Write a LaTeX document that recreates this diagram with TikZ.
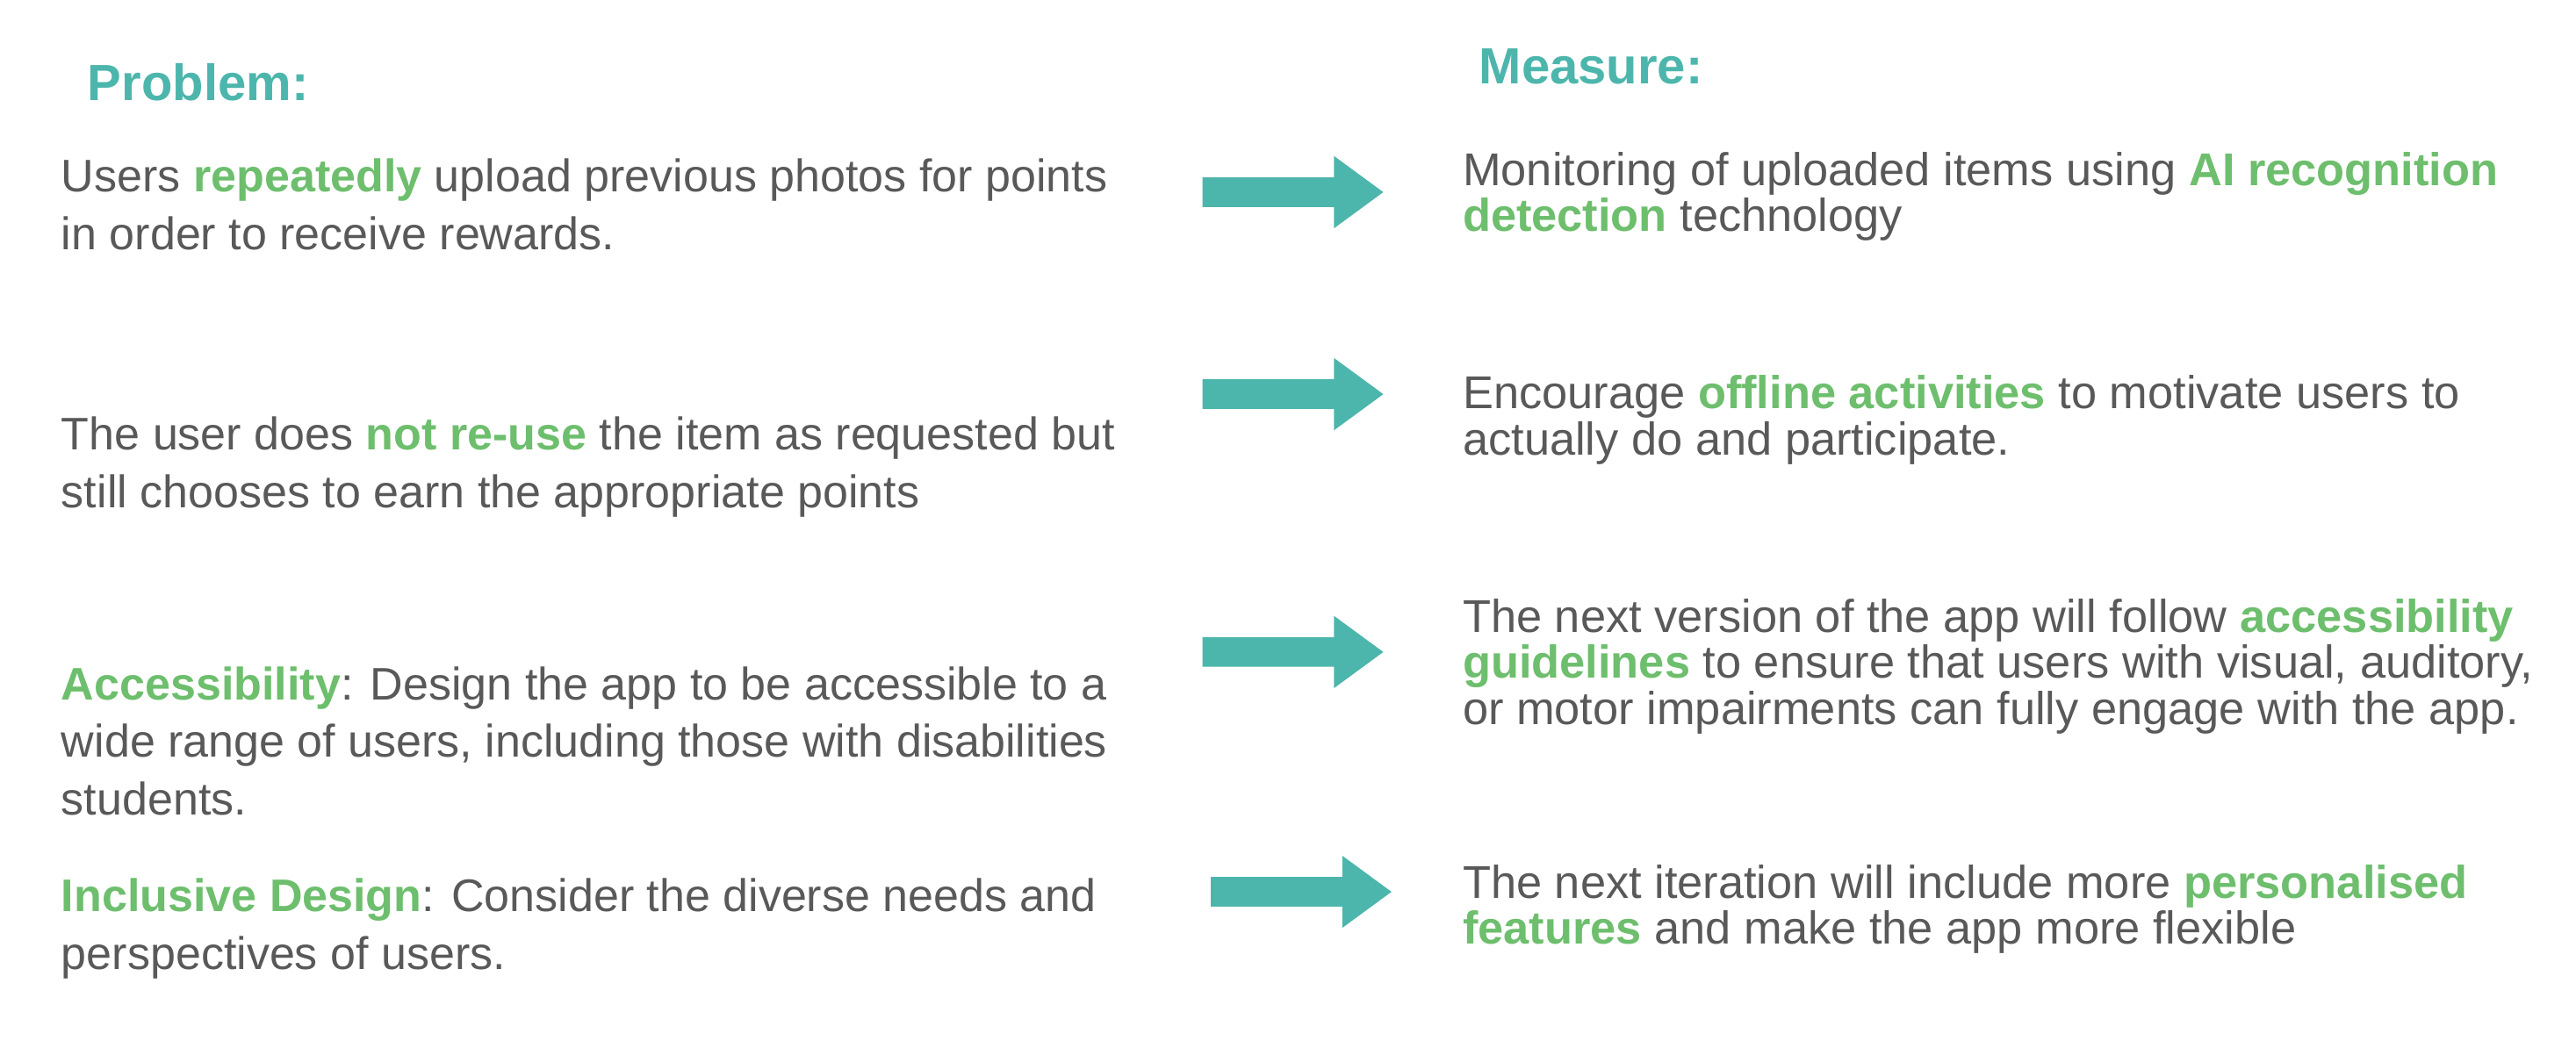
\documentclass[tikz,border=0pt]{standalone}
\usepackage{fontspec}
\setmainfont{Liberation Sans}
\definecolor{txt}{HTML}{595959}
\definecolor{grn}{HTML}{6DBE6D}
\definecolor{teal}{HTML}{4DB6AC}
\newcommand{\hl}[1]{\textcolor{grn}{\bfseries #1}}
\begin{document}
\begin{tikzpicture}[x=0.5pt,y=-0.5pt,
  head/.style={anchor=base west,inner sep=0,text=teal,font=\fontsize{15.5pt}{17pt}\selectfont\bfseries},
  lt/.style={anchor=base west,inner sep=0,text=txt,align=left,font=\fontsize{13.9pt}{17.5pt}\selectfont},
  rt/.style={anchor=base west,inner sep=0,text=txt,align=left,font=\fontsize{14pt}{14pt}\selectfont},
  arr/.style={fill=teal,draw=none}]
\useasboundingbox (0,0) rectangle (1568,642);
\node[head] (p) at (53,61) {Problem:};
\node[head] (m) at (900,51) {Measure:};
\node[lt] (l1) at (37,152) {Users \hl{repeatedly} upload previous photos for points\\in order to receive rewards.};
\node[lt] (l2) at (37,309) {The user does \hl{not re-use} the item as requested but\\still chooses to earn the appropriate points};
\node[lt] (l3) at (37,496) {\hl{Accessibility}: Design the app to be accessible to a\\wide range of users, including those with disabilities\\students.};
\node[lt] (l4) at (37,590) {\hl{Inclusive Design}: Consider the diverse needs and\\perspectives of users.};
\node[rt] (r1) at (890,141) {Monitoring of uploaded items using \hl{AI recognition}\\\hl{detection} technology};
\node[rt] (r2) at (890,277) {Encourage \hl{offline activities} to motivate users to\\actually do and participate.};
\node[rt] (r3) at (890,441) {The next version of the app will follow \hl{accessibility}\\\hl{guidelines} to ensure that users with visual, auditory,\\or motor impairments can fully engage with the app.};
\node[rt] (r4) at (890,575) {The next iteration will include more \hl{personalised}\\\hl{features} and make the app more flexible};
\foreach \x/\y in {732/117,732/240,732/397,737/543}{
  \fill[arr] (\x,\y-9) -- (\x+80,\y-9) -- (\x+80,\y-22) -- (\x+110,\y) -- (\x+80,\y+22) -- (\x+80,\y+9) -- (\x,\y+9) -- cycle;}
\end{tikzpicture}
\end{document}
